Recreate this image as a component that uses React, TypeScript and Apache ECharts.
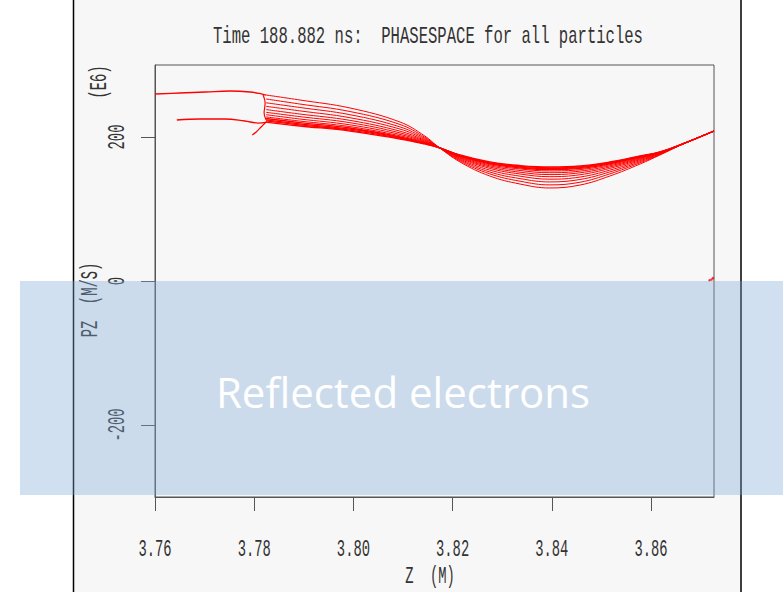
import React, { useEffect, useRef } from "react";
import * as echarts from "echarts";

// Axis ticks
const Z_TICKS = [3.76, 3.78, 3.8, 3.82, 3.84, 3.86];
const PZ_TICKS = [-200, 0, 200];

// Z positions (M) shared by the fan of phase-space strands
const STRAND_Z = [
  3.7824, 3.7892, 3.7993, 3.8094, 3.8144, 3.8169, 3.8215, 3.8275, 3.8336, 3.8396,
  3.8457, 3.8517, 3.8578, 3.8618, 3.8669, 3.8727,
];

// PZ (E6 M/S) of each strand at the positions above
const PZ_STRANDS: number[][] = [
  [258.3, 251.4, 240.3, 220.8, 201.4, 187.5, 165.3, 145.8, 134.7, 129.2, 133.3, 145.8, 162.5, 175.0, 191.7, 208.3],
  [252.8, 245.8, 235.4, 217.4, 199.7, 187.2, 166.7, 148.8, 138.6, 133.5, 137.2, 148.8, 164.2, 175.6, 191.7, 208.3],
  [247.5, 241.0, 231.0, 214.0, 198.2, 187.1, 168.1, 151.4, 142.2, 137.6, 141.0, 151.5, 165.7, 176.3, 191.7, 208.3],
  [242.6, 236.3, 226.8, 211.0, 196.7, 186.9, 169.3, 154.0, 145.6, 141.4, 144.4, 154.0, 167.2, 176.8, 191.7, 208.3],
  [238.1, 231.9, 223.1, 208.1, 195.4, 186.8, 170.6, 156.4, 148.6, 144.9, 147.6, 156.4, 168.5, 177.2, 191.7, 208.3],
  [234.3, 228.3, 219.9, 205.7, 194.3, 186.7, 171.5, 158.3, 151.1, 147.8, 150.3, 158.3, 169.6, 177.6, 191.7, 208.3],
  [231.0, 225.0, 216.9, 203.6, 193.3, 186.5, 172.4, 160.0, 153.5, 150.4, 152.6, 160.0, 170.6, 178.1, 191.7, 208.3],
  [227.9, 222.1, 214.4, 201.7, 192.4, 186.4, 173.2, 161.5, 155.6, 152.8, 154.7, 161.5, 171.5, 178.3, 191.7, 208.3],
  [225.7, 220.0, 212.5, 200.3, 191.7, 186.3, 173.8, 162.8, 157.1, 154.6, 156.3, 162.8, 172.2, 178.6, 191.7, 208.3],
  [223.9, 218.2, 210.8, 199.2, 191.1, 186.3, 174.2, 163.8, 158.3, 156.0, 157.6, 163.8, 172.8, 178.9, 191.7, 208.3],
  [222.4, 216.7, 209.6, 198.2, 190.7, 186.1, 174.6, 164.4, 159.4, 157.2, 158.6, 164.4, 173.2, 179.0, 191.7, 208.3],
  [220.8, 215.3, 208.3, 197.2, 190.3, 186.1, 175.0, 165.3, 160.4, 158.3, 159.7, 165.3, 173.6, 179.2, 191.7, 208.3],
];

// Upper-left branch
const UPPER_BRANCH_Z = [3.76, 3.765, 3.7702, 3.7751, 3.7792, 3.7816, 3.7824];
const UPPER_BRANCH_PZ = [259.7, 261.1, 262.5, 263.9, 262.5, 259.7, 258.3];
// Lower-left branch
const LOWER_BRANCH_Z = [3.7644, 3.7691, 3.7741, 3.7781, 3.7808, 3.7826];
const LOWER_BRANCH_PZ = [223.6, 225.0, 225.0, 222.2, 219.4, 220.8];
// Small hook below the junction
const HOOK_Z = [3.7824, 3.7814, 3.7804, 3.7796];
const HOOK_PZ = [220.8, 213.9, 206.9, 202.8];
// Left edge of the fan
const EDGE_Z = [3.7818, 3.7822, 3.782, 3.7824];
const EDGE_PZ = [258.3, 247.2, 233.3, 223.6];
// Reflected particles at the right edge
const REFLECTED_Z = [3.8718, 3.8722, 3.8725];
const REFLECTED_PZ = [1, 2, 4];

const pairs = (zs: number[], ps: number[]) => zs.map((z, i) => [z, ps[i]]);

const MONO = "'Liberation Mono', 'DejaVu Sans Mono', monospace";
const RED = "#ff0000";
const INK = "#333";
const Z_MIN = 3.76;
const Z_MAX = 3.8727;
const PZ_MIN = -300;
const PZ_MAX = 300;

export default function App() {
  const ref = useRef<HTMLDivElement>(null);
  useEffect(() => {
    if (!ref.current) return;
    const chart = echarts.init(ref.current, undefined, { renderer: "svg" });

    const lineSeries = (data: number[][], width = 1) => ({
      type: "line",
      data,
      smooth: 0.4,
      showSymbol: false,
      silent: true,
      lineStyle: { color: RED, width },
      z: 3,
    });

    const series: any[] = [
      ...PZ_STRANDS.map((ps, i) => lineSeries(pairs(STRAND_Z, ps), i >= 8 ? 1.3 : 1)),
      lineSeries(pairs(UPPER_BRANCH_Z, UPPER_BRANCH_PZ), 1.3),
      lineSeries(pairs(LOWER_BRANCH_Z, LOWER_BRANCH_PZ), 1.3),
      lineSeries(pairs(HOOK_Z, HOOK_PZ), 1.2),
      lineSeries(pairs(EDGE_Z, EDGE_PZ), 1.2),
      {
        type: "scatter",
        data: pairs(REFLECTED_Z, REFLECTED_PZ),
        symbolSize: 2.5,
        itemStyle: { color: RED },
        silent: true,
        z: 3,
      },
    ];

    const monoText = (text: string, x: number, y: number, size: number, scaleX: number, rotation = 0) => ({
      type: "text",
      x,
      y,
      rotation,
      scaleX,
      silent: true,
      style: {
        text,
        fontFamily: MONO,
        fontSize: size,
        fill: INK,
        textAlign: "center",
        textVerticalAlign: "middle",
      },
    });

    const baseGraphic: any[] = [
      {
        type: "rect",
        z: -1,
        silent: true,
        shape: { x: 73.5, y: -5, width: 667.5, height: 610 },
        style: { fill: "#f7f7f7", stroke: "#000", lineWidth: 1.5 },
      },
      monoText("Time 188.882 ns:  PHASESPACE for all particles", 428, 37, 23, 0.678),
      monoText("Z  (M)", 430, 577, 23, 0.6),
      monoText("PZ  (M/S)", 91, 300, 23, 0.6, Math.PI / 2),
      monoText("(E6)", 100, 82, 23, 0.6, Math.PI / 2),
      {
        type: "rect",
        z: 100,
        silent: true,
        shape: { x: 20, y: 281, width: 763, height: 214 },
        style: { fill: "rgba(124,170,216,0.36)" },
      },
      {
        type: "text",
        z: 101,
        x: 403,
        y: 391,
        silent: true,
        style: {
          text: "Reflected electrons",
          fontFamily: "'Open Sans', 'Noto Sans', sans-serif",
          fontSize: 42,
          fill: "#ffffff",
          textAlign: "center",
          textVerticalAlign: "middle",
        },
      },
    ];

    chart.setOption({
      animation: false,
      backgroundColor: "#ffffff",
      grid: {
        left: 155,
        right: 69,
        top: 65,
        bottom: 95,
        show: true,
        borderColor: "#555",
        borderWidth: 1,
        backgroundColor: "transparent",
      },
      xAxis: {
        type: "value",
        min: Z_MIN,
        max: Z_MAX,
        axisLine: { show: true, onZero: false, lineStyle: { color: "#555", width: 1 } },
        axisTick: { show: true, length: 14, customValues: Z_TICKS, lineStyle: { color: "#555" } },
        axisLabel: { show: false },
        splitLine: { show: false },
      },
      yAxis: {
        type: "value",
        min: PZ_MIN,
        max: PZ_MAX,
        axisLine: { show: true, onZero: false, lineStyle: { color: "#555", width: 1 } },
        axisTick: { show: true, length: 14, customValues: PZ_TICKS, lineStyle: { color: "#555" } },
        axisLabel: { show: false },
        splitLine: { show: false },
      },
      graphic: baseGraphic,
      series,
    });

    // Tick labels placed through the axes' own scales, drawn condensed like the original
    const plotBottom = chart.convertToPixel({ yAxisIndex: 0 }, PZ_MIN) as number;
    const plotLeft = chart.convertToPixel({ xAxisIndex: 0 }, Z_MIN) as number;
    const xLabels = Z_TICKS.map((v) =>
      monoText(v.toFixed(2), chart.convertToPixel({ xAxisIndex: 0 }, v) as number, plotBottom + 53, 23, 0.6)
    );
    const yLabels = PZ_TICKS.map((v) =>
      monoText(String(v), plotLeft - 37, chart.convertToPixel({ yAxisIndex: 0 }, v) as number, 23, 0.6, Math.PI / 2)
    );
    chart.setOption({ graphic: [...baseGraphic, ...xLabels, ...yLabels] }, { replaceMerge: ["graphic"] } as any);

    return () => chart.dispose();
  }, []);

  return (
    <div
      ref={ref}
      style={{ position: "absolute", left: 0, top: 0, width: 783, height: 592 }}
    />
  );
}
